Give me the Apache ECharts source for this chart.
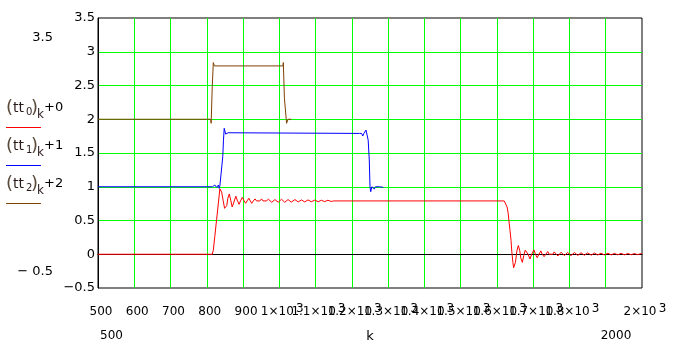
<!DOCTYPE html>
<html><head><meta charset="utf-8">
<script src="https://cdn.jsdelivr.net/npm/echarts@6/dist/echarts.min.js"></script>
<style>html,body{margin:0;padding:0;background:#fff}#c{width:691px;height:354px}</style>
</head><body><div id="c"></div>
<script>
// ---- data ----
const xTickValues = [500,600,700,800,900,1000,1100,1200,1300,1400,1500,1600,1700,1800,1900,2000];
const xTickMain = ['500','600','700','800','900','1×10','1.1×10','1.2×10','1.3×10','1.4×10','1.5×10','1.6×10','1.7×10','1.8×10','1.9×10','2×10'];
const xTickExp  = ['','','','','','3','3','3','3','3','3','3','3','3','3','3'];
const yTickValues = [-0.5,0,0.5,1,1.5,2,2.5,3,3.5];
const yTickLabels = ['\u22120.5','0','0.5','1','1.5','2','2.5','3','3.5'];

// (tt0)k + 0  (red)
const tt0plot = [
[500,0],[815,0],[818,0.06],[822,0.26],[827,0.51],[832,0.76],[836,0.97],[839,0.98],[841,0.92],[845,0.8],[849,0.68],[852,0.656],
[855,0.72],[858,0.83],[862,0.893],[866,0.8],[870,0.70],[874,0.76],[880,0.86],[884,0.8],[889,0.74],[893,0.79],[898,0.843],
[902,0.8],[907,0.755],[911,0.79],[916,0.83],[920,0.79],[924,0.755],[928,0.79],[933,0.82],[937,0.79],[942,0.765],[946,0.79],
[951,0.82],[955,0.79],[960,0.765],[964,0.79],[970,0.815],[974,0.79],[979,0.77],[983,0.79],[988,0.81],[992,0.79],[997,0.77],
[1006,0.815],[1015,0.77],[1024,0.81],[1033,0.772],[1043,0.81],[1052,0.775],[1061,0.805],[1070,0.775],[1079,0.805],[1088,0.778],
[1098,0.803],[1107,0.778],[1116,0.8],[1125,0.78],[1134,0.8],[1143,0.782],[1148,0.805],[1150,0.79],
[1620,0.79],[1624,0.77],[1628,0.7],[1631,0.607],[1634,0.45],[1636,0.356],[1639,0.2],[1641,0.038],[1644,-0.12],[1646,-0.2],[1648,-0.208],
[1651,-0.12],[1655,0.05],[1659,0.13],[1663,0.05],[1666,-0.06],[1670,-0.12],[1674,-0.02],[1678,0.06],[1682,0.085],[1686,0.0],
[1691,-0.07],[1696,0.0],[1702,0.065],[1706,0.0],[1711,-0.05],[1716,0.0],[1721,0.05],[1725,0.0],[1730,-0.035],[1735,0.0],
[1740,0.04],[1744,0.0],[1749,-0.025],[1754,0.0],[1758,0.035],[1768,-0.025],[1777,0.03],[1786,-0.02],[1795,0.027],[1804,-0.02],
[1814,0.025],[1823,-0.017],[1832,0.022],[1841,-0.015],[1850,0.02],[1860,-0.013],[1869,0.018],[1878,-0.012],[1887,0.016],
[1896,-0.01],[1906,0.015],[1915,-0.01],[1924,0.013],[1933,-0.008],[1942,0.012],[1952,-0.008],[1961,0.011],[1970,-0.007],
[1979,0.01],[1988,-0.006],[1997,0.009],[2000,0.005]
];
// (tt1)k + 1  (blue)
const tt1plot = [
[500,1],[816,1],[819,1.0],[822,1.026],[825,1.0],[827,0.99],[830,1.0],[832,1.026],[834,0.977],[836,1.01],[839,1.0],[841,1.0],
[844,1.445],[846,1.69],[848,1.866],[850,1.84],[852,1.78],[855,1.767],[857,1.80],[859,1.80],[861,1.78],[864,1.79],
[1221,1.79],[1224,1.767],[1227,1.79],[1230,1.752],[1233,1.79],[1236,1.816],[1239,1.84],[1241,1.865],[1243,1.841],
[1245,1.69],[1248,1.396],[1250,1.0],[1252,0.927],[1255,1.0],[1259,1.011],[1262,0.967],[1265,1.0],[1267,0.99],[1270,0.986],
[1276,1.0],[1287,0.991]
];
// (tt2)k + 2  (brown)
const tt2plot = [
[500,2.0],[811,2.0],[812,1.94],[814,1.94],[815,2.48],[817,2.48],[818,2.84],[820,2.84],[821,2.79],[1010,2.79],[1011,2.84],
[1013,2.84],[1014,2.31],[1017,2.31],[1019,2.0],[1020,1.94],[1022,1.96],[1024,2.0],[1033,2.0]
];
const seriesSub = ['0','1','2'];
const seriesAdd = ['+0','+1','+2'];
const seriesColors = ['#ff0000','#0000ff','#804000'];

// ---- chart ----
const F = 'DejaVu Sans';
const LF = '12px ' + F;
const ctx = document.createElement('canvas').getContext('2d');
ctx.font = LF;
const tw = s => ctx.measureText(s).width;
const SUP_GAP = 2;
const LABEL_SHIFT = 6;   // label group sits ~3px right of its tick

const chart = echarts.init(document.getElementById('c'), null, {renderer:'canvas'});
const legendGraphics = [];
for (let i = 0; i < 3; i++) {
  const cy = 108 + i * 38;
  legendGraphics.push(
    {type:'text', x:6, y:cy, style:{text:'(', font:'18px '+F, fill:'#5a4a3a', textVerticalAlign:'middle'}},
    {type:'text', x:13, y:cy, style:{text:'tt', font:'14px '+F, fill:'#2a1a1a', textVerticalAlign:'middle'}},
    {type:'text', x:26, y:cy+4, style:{text:seriesSub[i], font:'10px '+F, fill:'#2a1a1a', textVerticalAlign:'middle'}},
    {type:'text', x:31, y:cy, style:{text:')', font:'18px '+F, fill:'#5a4a3a', textVerticalAlign:'middle'}},
    {type:'text', x:37, y:cy+7, style:{text:'k', font:'12px '+F, fill:'#2a1a1a', textVerticalAlign:'middle'}},
    {type:'text', x:44, y:cy, style:{text:seriesAdd[i], font:'13px '+F, fill:'#000', textVerticalAlign:'middle'}},
    {type:'line', shape:{x1:6, y1:127 + i*38 + 0.5, x2:41, y2:127 + i*38 + 0.5}, style:{stroke:seriesColors[i], lineWidth:1}}
  );
}
function idxOf(v){ return xTickValues.indexOf(Math.round(v)); }
const commonX = {type:'value', min:500, max:2000, interval:100, gridIndex:0, position:'bottom'};
const option = {
  animation:false,
  backgroundColor:'#fff',
  grid:{left:98, top:18, right:49, bottom:66, show:true, borderColor:'#000', borderWidth:1, backgroundColor:'transparent'},
  xAxis:[
    Object.assign({}, commonX, {
      name:'k', nameLocation:'middle', nameGap:42,
      nameTextStyle:{fontFamily:F, fontSize:13, color:'#000'},
      axisLine:{show:true, lineStyle:{color:'#000', width:1}},
      axisTick:{show:false},
      splitLine:{show:true, showMinLine:false, showMaxLine:false, lineStyle:{color:'#00ff00', width:1}},
      axisLabel:{
        interval:0, hideOverlap:false, margin:17, showMinLabel:true, showMaxLabel:true,
        fontFamily:F, fontSize:12, color:'#000', lineHeight:14,
        formatter:function(v){
          const i = idxOf(v);
          if (i < 0) return '';
          const padR = xTickExp[i] ? Math.round(SUP_GAP + tw(xTickExp[i])) : 0;
          return '{b' + padR + '|' + xTickMain[i] + '}';
        },
        rich:(function(){
          const r = {};
          for (let p = 0; p <= 20; p++) r['b'+p] = {fontFamily:F, fontSize:12, color:'#000', lineHeight:14, padding:[0,p,0,LABEL_SHIFT]};
          return r;
        })()
      }
    }),
    Object.assign({}, commonX, {
      axisLine:{show:false, onZero:false}, axisTick:{show:false}, splitLine:{show:false},
      axisLabel:{
        interval:0, hideOverlap:false, margin:13.5, showMinLabel:true, showMaxLabel:true,
        fontFamily:F, fontSize:12, color:'#000', lineHeight:14,
        formatter:function(v){
          const i = idxOf(v);
          if (i < 0 || !xTickExp[i]) return '';
          const padL = Math.round(LABEL_SHIFT + tw(xTickMain[i]) + SUP_GAP);
          return '{e' + padL + '|' + xTickExp[i] + '}';
        },
        rich:(function(){
          const r = {};
          for (let p = 0; p <= 80; p++) r['e'+p] = {fontFamily:F, fontSize:12, color:'#000', lineHeight:14, padding:[0,0,0,p]};
          return r;
        })()
      }
    })
  ],
  yAxis:{
    type:'value', min:-0.5, max:3.5, interval:0.5,
    axisLine:{show:true, lineStyle:{color:'#000', width:1}},
    axisTick:{show:false},
    splitLine:{show:true, showMinLine:false, showMaxLine:false, lineStyle:{color:'#00ff00', width:1}},
    axisLabel:{
      margin:3, fontFamily:F, fontSize:13, color:'#000',
      formatter:function(v){
        const i = yTickValues.findIndex(t => Math.abs(t - v) < 1e-9);
        return i < 0 ? '' : yTickLabels[i];
      }
    }
  },
  series:[
    {type:'line', data:tt0plot, showSymbol:false, lineStyle:{color:seriesColors[0], width:1}, z:3},
    {type:'line', data:tt1plot, showSymbol:false, lineStyle:{color:seriesColors[1], width:1}, z:4},
    {type:'line', data:tt2plot, showSymbol:false, lineStyle:{color:seriesColors[2], width:1}, z:5}
  ],
  graphic:[
    {type:'text', x:53, y:38, style:{text:'3.5', font:'13px '+F, fill:'#000', textAlign:'right', textVerticalAlign:'middle'}},
    {type:'text', x:53, y:272, style:{text:'\u2212 0.5', font:'13px '+F, fill:'#000', textAlign:'right', textVerticalAlign:'middle'}},
    {type:'text', x:100, y:336, style:{text:'500', font:'12px '+F, fill:'#000', textAlign:'left', textVerticalAlign:'middle'}},
    {type:'text', x:616, y:336, style:{text:'2000', font:'12px '+F, fill:'#000', textAlign:'center', textVerticalAlign:'middle'}}
  ].concat(legendGraphics)
};
chart.setOption(option);
</script>
</body></html>
